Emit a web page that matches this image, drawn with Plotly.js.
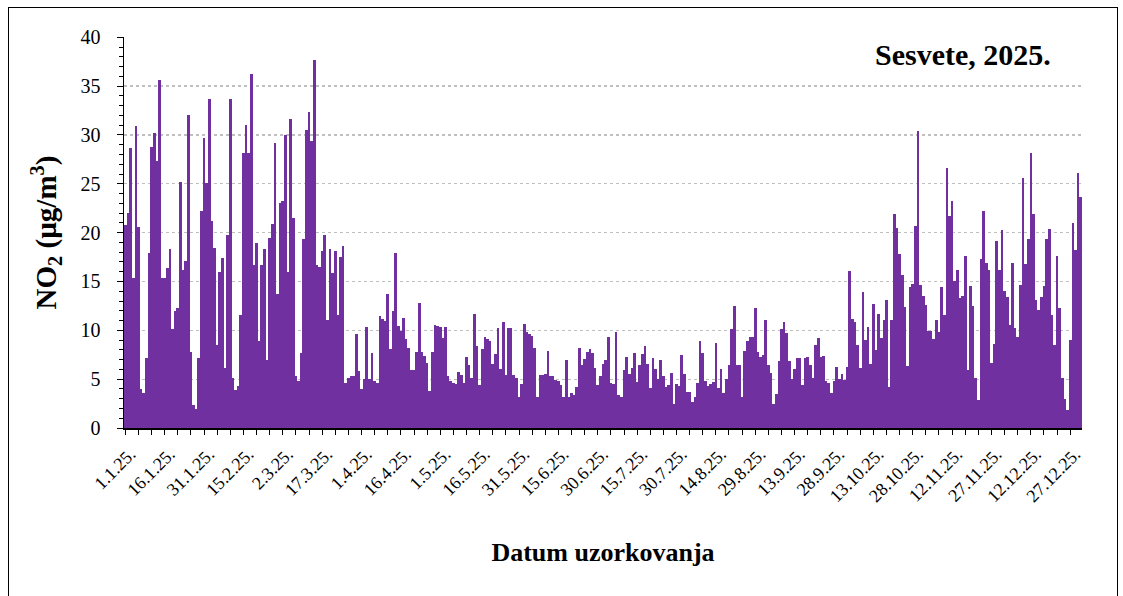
<!DOCTYPE html>
<html>
<head>
<meta charset="utf-8">
<script src="https://cdn.plot.ly/plotly-3.0.1.min.js"></script>
<style>
  html, body { margin: 0; padding: 0; background: #ffffff; }
  #chart { width: 1123px; height: 596px; position: absolute; left: 0; top: 0; }
  #frame { position: absolute; left: 8px; top: 7px; width: 1108px; height: 620px;
           border: 1.5px solid #000; pointer-events: none; }
</style>
</head>
<body>
<div id="chart"></div>
<div id="frame"></div>
<script>
// Daily NO2 concentrations (µg/m3), Sesvete 2025
const no2Jan = [20.8, 22.0, 28.7, 15.4, 30.9, 20.6, 4.0, 3.6, 7.2, 17.9, 28.8, 30.2, 27.3, 35.6, 15.4, 15.4, 16.4, 18.3, 10.1, 12.0, 12.3, 25.2, 16.2, 17.1, 32.0, 7.8, 2.4, 1.9, 7.2, 22.2];
const no2Feb = [29.7, 25.1, 33.7, 21.2, 18.4, 8.5, 16.0, 17.4, 6.1, 19.8, 33.7, 5.1, 3.9, 4.3, 11.6, 28.2, 31.0, 28.2, 36.2, 16.7, 18.9, 8.9, 16.7, 18.3, 7.0, 19.5, 20.9, 29.2, 13.7, 23.0];
const no2Mar = [23.2, 30.0, 16.0, 31.6, 21.5, 5.3, 4.8, 7.7, 19.3, 30.5, 32.4, 29.4, 37.7, 16.7, 16.5, 18.1, 19.8, 11.1, 18.3, 15.9, 18.1, 11.6, 17.5, 18.6, 4.6, 5.1, 5.3, 5.3, 9.6, 5.8];
const no2Apr = [4.0, 5.0, 10.3, 5.0, 7.7, 4.8, 4.6, 11.5, 11.2, 11.0, 13.7, 8.1, 12.0, 17.9, 10.4, 9.9, 11.3, 9.1, 8.2, 5.9, 5.9, 7.8, 12.8, 7.8, 7.4, 6.7, 3.8, 7.8, 10.5, 10.4, 10.3];
const no2May = [9.2, 10.3, 5.3, 4.8, 4.6, 4.5, 5.7, 5.4, 4.6, 7.3, 6.5, 5.1, 11.7, 8.4, 4.4, 8.1, 9.3, 9.1, 8.9, 6.6, 7.6, 10.2, 6.0, 10.9, 5.4, 10.2, 10.2, 5.4, 5.1, 3.2, 4.5];
const no2Jun = [10.6, 9.8, 9.6, 9.4, 8.2, 3.2, 5.4, 5.4, 5.5, 7.9, 5.3, 5.3, 4.9, 4.8, 4.4, 3.2, 7.0, 3.2, 3.6, 3.4, 4.2, 8.2, 6.4, 7.1, 7.8, 8.1, 7.7, 6.1, 4.4, 5.3, 6.6];
const no2Jul = [7.0, 9.3, 4.6, 4.5, 9.8, 3.4, 3.2, 5.9, 7.3, 5.5, 6.1, 7.7, 4.7, 6.4, 7.6, 8.4, 6.6, 4.1, 7.2, 6.0, 5.0, 7.0, 5.3, 4.2, 4.4, 5.6, 2.5, 4.5, 4.3, 7.5];
const no2Aug = [5.5, 3.7, 3.7, 2.7, 3.2, 4.6, 8.9, 7.7, 4.8, 4.3, 4.5, 4.7, 8.7, 4.1, 6.0, 3.6, 5.0, 6.5, 10.1, 12.5, 6.5, 6.4, 3.2, 7.9, 8.9, 9.3, 9.3, 12.3, 7.8, 7.3];
const no2Sep = [7.5, 11.1, 6.4, 5.6, 2.5, 3.5, 6.9, 10.1, 10.9, 9.7, 6.9, 5.0, 6.0, 7.2, 7.2, 4.4, 7.2, 7.3, 6.5, 5.1, 8.5, 9.2, 7.3, 7.4, 4.8, 4.6, 3.6, 4.8, 6.2, 5.0, 5.5];
const no2Oct = [4.9, 6.2, 16.1, 11.2, 10.9, 8.5, 6.1, 13.9, 9.0, 10.3, 6.6, 12.7, 8.0, 11.7, 9.2, 11.1, 13.1, 4.2, 11.1, 21.9, 20.5, 17.8, 15.7, 12.4, 6.3, 14.4, 14.7, 20.7, 30.4, 14.6, 13.5];
const no2Nov = [12.6, 9.9, 9.9, 9.1, 11.1, 9.8, 14.4, 11.6, 26.6, 21.7, 23.2, 15.0, 16.2, 13.3, 13.5, 17.6, 5.9, 14.5, 12.5, 5.1, 2.9, 17.3, 22.2, 16.9, 16.2, 6.7, 8.6, 19.1, 16.2, 20.3];
const no2Dec = [14.0, 13.4, 10.5, 16.9, 10.2, 9.3, 14.6, 25.6, 16.8, 19.3, 28.2, 21.9, 13.1, 12.1, 13.4, 14.5, 19.3, 20.4, 11.6, 8.5, 17.6, 12.3, 5.1, 3.0, 1.8, 9.0, 21.0, 18.2, 26.1, 23.6];

const tickDays = [1, 16, 31, 46, 61, 76, 91, 106, 121, 136, 151, 166, 181, 196, 211, 226, 241, 256, 271, 286, 301, 316, 331, 346, 361];
const tickLabels = ["1.1.25.", "16.1.25.", "31.1.25.", "15.2.25.", "2.3.25.", "17.3.25.", "1.4.25.", "16.4.25.", "1.5.25.", "16.5.25.", "31.5.25.", "15.6.25.", "30.6.25.", "15.7.25.", "30.7.25.", "14.8.25.", "29.8.25.", "13.9.25.", "28.9.25.", "13.10.25.", "28.10.25.", "12.11.25.", "27.11.25.", "12.12.25.", "27.12.25."];

const chartTitle = "Sesvete, 2025.";
const yTitle = "NO<sub>2</sub> (µg/m<sup>3</sup>)";
const xTitle = "Datum uzorkovanja";

const no2 = [].concat(no2Jan, no2Feb, no2Mar, no2Apr, no2May, no2Jun, no2Jul, no2Aug, no2Sep, no2Oct, no2Nov, no2Dec);
const dayIndex = no2.map((v, i) => i + 1);

const serif = "Liberation Serif, Times New Roman, serif";

const trace = {
  type: 'bar',
  x: dayIndex,
  y: no2,
  marker: { color: '#7030A0', line: { width: 0 } },
  hoverinfo: 'y'
};

const layout = {
  width: 1123,
  height: 596,
  margin: { l: 124, r: 41, t: 37, b: 168 },
  paper_bgcolor: '#ffffff',
  plot_bgcolor: '#ffffff',
  bargap: 0,
  showlegend: false,
  font: { family: serif, color: '#000000' },
  xaxis: {
    range: [0.5, 365.5],
    tickmode: 'array',
    tickvals: tickDays,
    ticktext: tickLabels,
    tickangle: -45,
    tickfont: { family: serif, size: 18, color: '#000' },
    ticklabelstandoff: 2,
    ticklabelshift: 5,
    showline: true,
    linecolor: '#000',
    linewidth: 1.5,
    ticks: 'outside',
    ticklen: 5,
    tickcolor: '#000',
    minor: { tickmode: 'linear', tick0: 1, dtick: 5, ticks: 'outside', ticklen: 5, tickcolor: '#000', showgrid: false },
    showgrid: false,
    zeroline: false,
    title: { text: xTitle, font: { family: serif, size: 26, color: '#000', weight: 'bold' }, standoff: 38 }
  },
  yaxis: {
    range: [0, 40.03],
    dtick: 5,
    tick0: 0,
    tickfont: { family: serif, size: 20, color: '#000' },
    ticklabelstandoff: 12,
    showline: true,
    linecolor: '#000',
    linewidth: 1.5,
    ticks: 'outside',
    ticklen: 6,
    tickcolor: '#000',
    minor: { dtick: 1, ticks: 'outside', ticklen: 4, tickcolor: '#000', showgrid: false },
    showgrid: true,
    gridcolor: '#bfbfbf',
    gridwidth: 1.3,
    griddash: 'dot',
    zeroline: false,
    title: { text: yTitle, font: { family: serif, size: 29, color: '#000', weight: 'bold' }, standoff: 15 }
  },
  annotations: [{
    text: '<b>' + chartTitle + '</b>',
    xref: 'paper', yref: 'paper',
    x: 0.97, y: 0.955,
    xanchor: 'right', yanchor: 'middle',
    showarrow: false,
    font: { family: serif, size: 30, color: '#000' }
  }]
};

Plotly.newPlot('chart', [trace], layout, { displayModeBar: false, staticPlot: true });
</script>
</body>
</html>
